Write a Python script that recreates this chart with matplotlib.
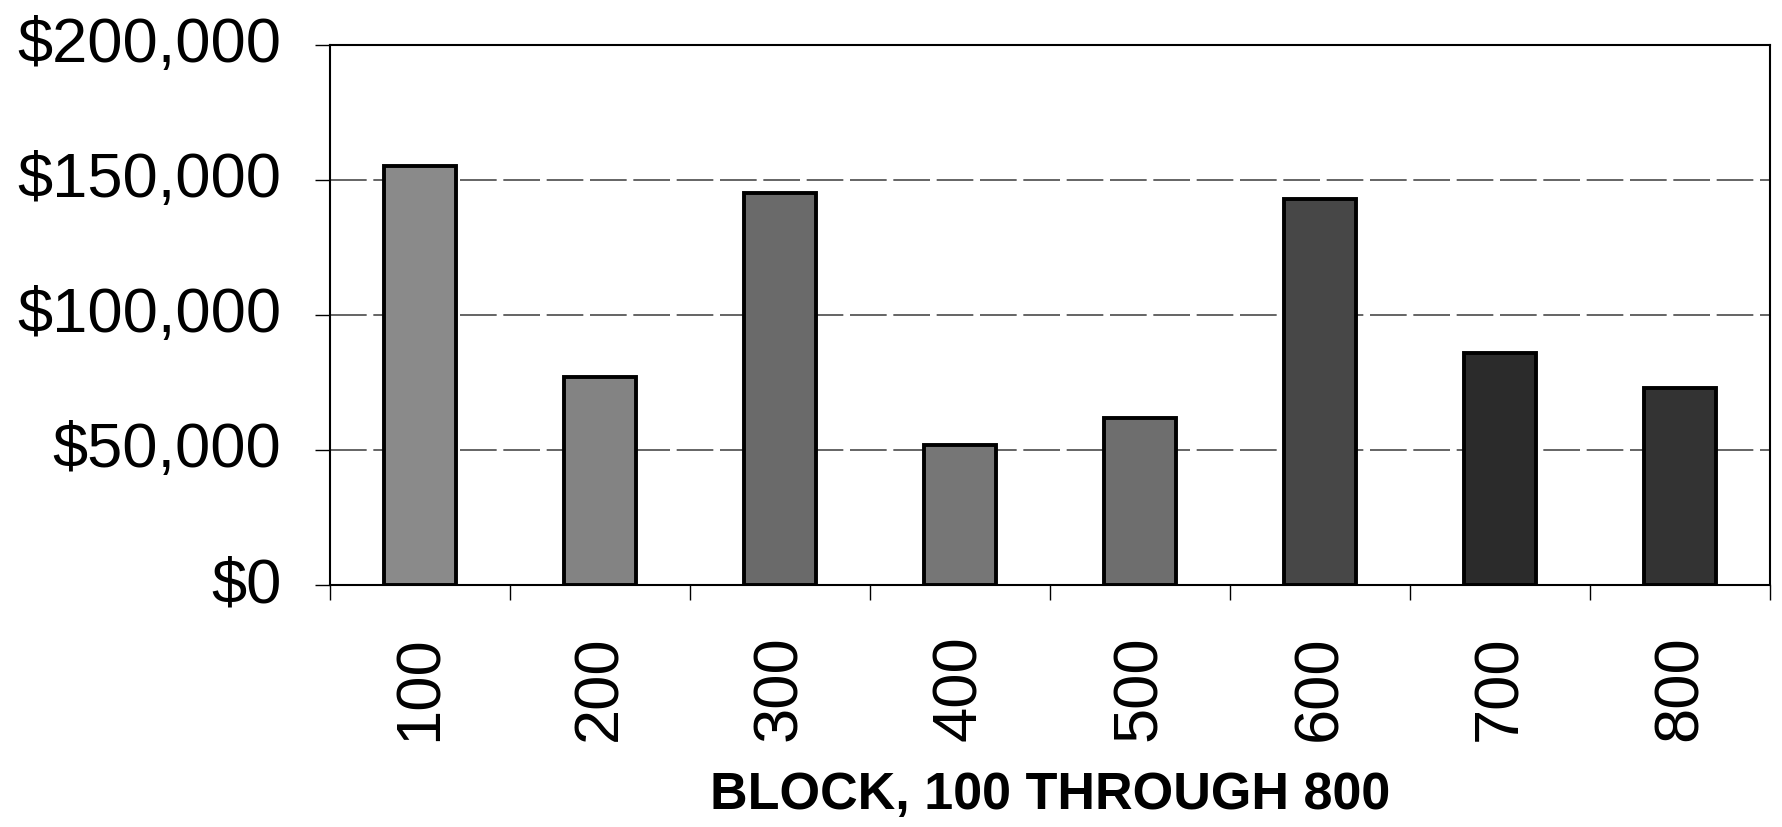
import matplotlib.pyplot as plt
from matplotlib.ticker import FuncFormatter, FixedLocator
from matplotlib.transforms import ScaledTranslation

## bar data, one value per block
blocks = ['100', '200', '300', '400', '500', '600', '700', '800']
values = [155000, 77000, 145000, 52000, 62000, 143000, 86000, 73000]
shades = ['#8a8a8a', '#838383', '#6a6a6a', '#767676', '#6e6e6e', '#474747', '#2b2b2b', '#333333']
yticks = [0, 50000, 100000, 150000, 200000]

plt.rcParams['font.family'] = ['Liberation Sans', 'DejaVu Sans']

fig = plt.figure(figsize=(17.83, 8.27), dpi=100)
ax = fig.add_axes([0.185, 0.2926, 0.8077, 0.653])

x = range(len(blocks))
ax.bar(x, values, width=0.40, color=shades, edgecolor='black', linewidth=2.8, zorder=3)

ax.set_xlim(-0.5, len(blocks) - 0.5)
ax.set_ylim(0, 200000)

# gridlines at the dollar steps
ax.set_yticks(yticks)
ax.yaxis.set_major_formatter(FuncFormatter(lambda v, p: '${:,.0f}'.format(v)))
ax.grid(axis='y', color='#4a4a4a', linewidth=1.2, linestyle=(0, (22, 4)), zorder=1)
ax.tick_params(axis='y', direction='out', length=11, width=1, labelsize=45.5, pad=24)
# nudge dollar labels up a little
lift = ScaledTranslation(0, 6 / 100, fig.dpi_scale_trans)
for lab in ax.get_yticklabels():
    lab.set_transform(lab.get_transform() + lift)

# block labels sit under bars, tick marks sit between them
ax.set_xticks(list(x))
ax.set_xticklabels(blocks, rotation=90)
ax.xaxis.set_minor_locator(FixedLocator([i - 0.5 for i in range(len(blocks) + 1)]))
ax.tick_params(axis='x', which='major', length=0, labelsize=45.5, pad=36)
ax.tick_params(axis='x', which='minor', direction='out', length=11, width=1)

for s in ax.spines.values():
    s.set_linewidth(1.5)
    s.set_color('black')

fig.text(0.589, 0.0375, 'BLOCK, 100 THROUGH 800', ha='center', va='center',
         fontsize=37.5, fontweight='bold')

plt.savefig('out.png', dpi=100)
